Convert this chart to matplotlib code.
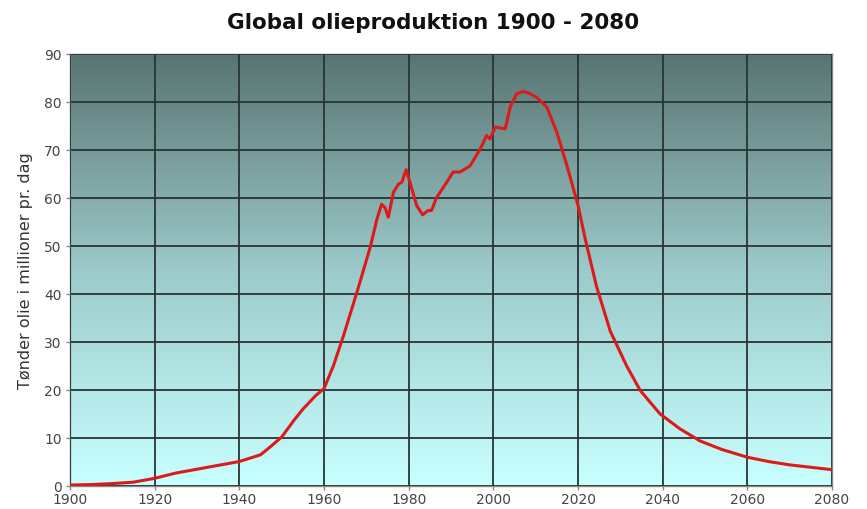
import numpy as np
import matplotlib
matplotlib.use("Agg")
import matplotlib.pyplot as plt
from matplotlib.colors import LinearSegmentedColormap

years = [1900, 1905, 1910, 1915, 1920, 1925, 1930, 1935, 1940, 1945, 1947.5, 1950,
         1953, 1955, 1958, 1960, 1962.2, 1964.6, 1968, 1971, 1972.5, 1973.6, 1974.4,
         1975.2, 1976.4, 1977.6, 1978.4, 1979.4, 1980.3, 1981.9, 1983.3, 1984.6,
         1985.4, 1986.6, 1989, 1990.5, 1992.1, 1994.5, 1996.9, 1998.4, 1999.2,
         2000.5, 2002.8, 2004, 2005.5, 2007, 2008.5, 2010.2, 2012.6, 2015,
         2017.3, 2020, 2021.7, 2024.4, 2027.6, 2031.5, 2034.7, 2039.4,
         2044.1, 2048.8, 2054, 2060, 2065, 2070, 2075, 2080]
production = [0.2, 0.3, 0.5, 0.8, 1.6, 2.7, 3.5, 4.3, 5.1, 6.5, 8.3, 10.2,
              13.8, 16.0, 18.8, 20.3, 25.0, 31.3, 41.0, 50.0, 55.6, 58.7, 58.0,
              56.0, 61.2, 62.9, 63.3, 65.9, 63.3, 58.4, 56.5, 57.4,
              57.4, 60.1, 63.3, 65.4, 65.4, 66.7, 70.2, 73.0, 72.3,
              74.8, 74.4, 79.0, 81.7, 82.2, 81.8, 81.0, 79.0, 73.7,
              67.0, 58.5, 51.5, 41.5, 32.3, 25.0, 19.9, 15.0,
              11.9, 9.4, 7.6, 6.0, 5.1, 4.4, 3.9, 3.4]

x_ticks = [1900, 1920, 1940, 1960, 1980, 2000, 2020, 2040, 2060, 2080]
y_ticks = [0, 10, 20, 30, 40, 50, 60, 70, 80, 90]

fig = plt.figure(figsize=(8.67, 5.10), dpi=100)
ax = fig.add_axes([70/867, 1 - 487/510, 762/867, 432/510])

cmap = LinearSegmentedColormap.from_list(
    "bg", [(0.0, "#c8ffff"), (0.5, "#9ccaca"), (1.0, "#587472")])
grad = np.linspace(0, 1, 256).reshape(-1, 1)
ax.imshow(grad, cmap=cmap, origin="lower", aspect="auto",
          extent=[0, 1, 0, 1], transform=ax.transAxes, zorder=0)

ax.plot(years, production, color="#dd1a1a", lw=2.2, zorder=3,
        solid_joinstyle="round")

ax.set_xlim(1900, 2080)
ax.set_ylim(0, 90)
ax.set_xticks(x_ticks)
ax.set_yticks(y_ticks)
ax.grid(True, color="#2a3434", lw=1.3, zorder=1)
ax.set_axisbelow(False)
for gl in ax.get_xgridlines() + ax.get_ygridlines():
    gl.set_zorder(1)

for s in ax.spines.values():
    s.set_color("#888888")
    s.set_linewidth(1.0)
ax.tick_params(axis="both", colors="#888888", labelcolor="#444444",
               labelsize=10, length=3, width=1)
ax.tick_params(axis="x", pad=1.5)
ax.tick_params(axis="y", pad=3)

ax.set_ylabel("Tønder olie i millioner pr. dag", fontsize=11.5,
              color="#333333", labelpad=8)
fig.suptitle("Global olieproduktion 1900 - 2080", fontsize=15.5,
             fontweight="bold", color="#111111", y=0.975)

fig.savefig("out.png", dpi=100)
